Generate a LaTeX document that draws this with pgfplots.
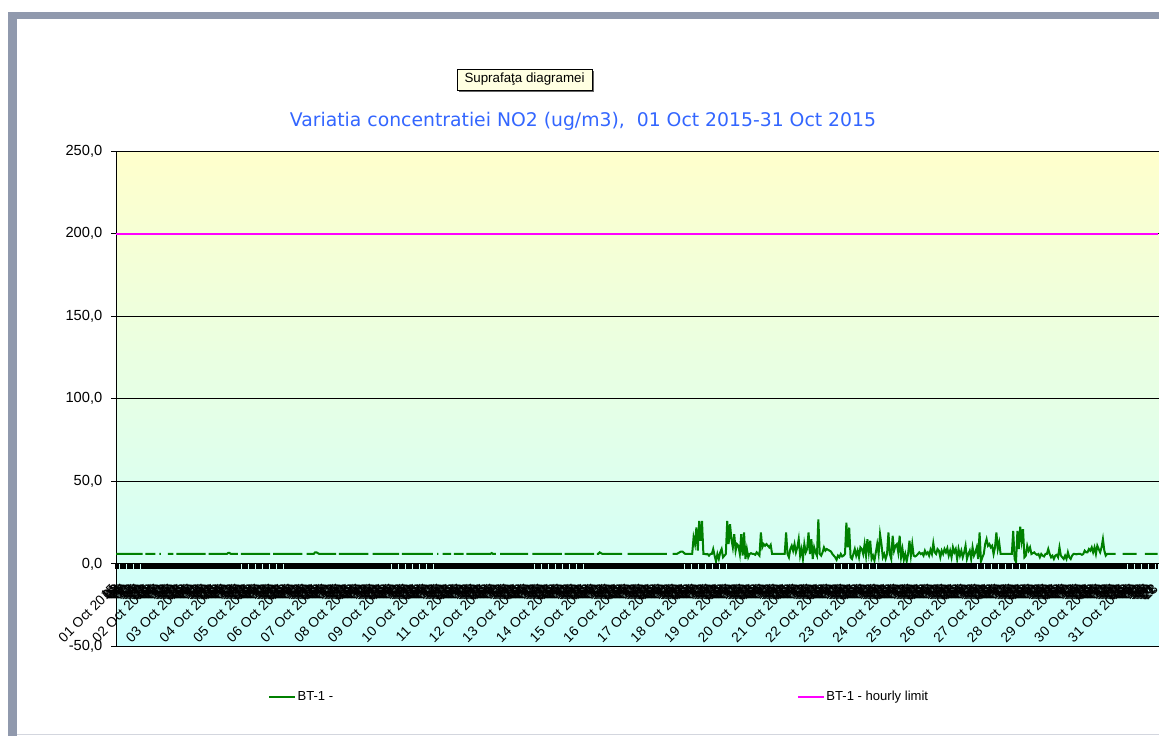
\documentclass[border=0pt]{standalone}
\usepackage{fontspec}
\setmainfont{Liberation Sans}
\newfontfamily\titlefont{DejaVu Sans}
\usepackage{pgfplots}
\pgfplotsset{compat=1.18}

\definecolor{framegray}{RGB}{144,153,173}
\definecolor{bgyellow}{RGB}{255,255,204}
\definecolor{bgcyan}{RGB}{204,255,255}
\definecolor{titleblue}{RGB}{51,102,255}
\definecolor{no2green}{RGB}{0,128,0}
\definecolor{limitpink}{RGB}{255,0,255}
\definecolor{tipfill}{RGB}{255,255,225}

% category labels: one per hour, the date at midnight
\def\hourlabels{}%
\foreach \d in {1,...,31}{%
  \foreach \h in {0,...,23}{%
    \ifnum\h=0
      \xdef\hourlabels{\hourlabels{\ifnum\d<10 0\fi\d\space Oct 2015},}%
    \else
      \xdef\hourlabels{\hourlabels{\ifnum\h<10 0\fi\h},}%
    \fi
  }%
}%

\begin{document}%
\begin{tikzpicture}
% window frame
\fill[framegray] (6pt,-9pt) rectangle (869.25pt,-14.25pt);
\fill[framegray] (6pt,-9pt) rectangle (12.75pt,-552pt);
\fill[framegray!40] (12.75pt,-550.2pt) rectangle (869.25pt,-551.2pt);

% tooltip
\fill[black!60] (344pt,-53pt) rectangle (445.25pt,-68.75pt);
\node[draw=black, fill=tipfill, line width=0.5pt, minimum width=101.25pt, minimum height=15.75pt,
      inner sep=0pt, font=\fontsize{10}{12}\selectfont] at (393.4pt,-59.6pt) {Suprafaţa diagramei};

% title
\node[text=titleblue, font=\titlefont\fontsize{14.1}{17}\selectfont] at (437.25pt,-90.75pt)
  {Variatia concentratiei NO2 (ug/m3),\ \ 01 Oct 2015-31 Oct 2015};

\begin{axis}[
  at={(87pt,-113.25pt)}, anchor=north west,
  scale only axis, width=784.5pt, height=371.6pt,
  xmin=0, xmax=746.14, ymin=-50, ymax=250,
  xtick=\empty,
  ytick={-50,0,50,100,150,200,250},
  yticklabels={{-50,0},{0,0},{50,0},{100,0},{150,0},{200,0},{250,0}},
  yticklabel style={font=\fontsize{11}{13}\selectfont, xshift=-3pt},
  ytick align=outside, ytick pos=left, major tick length=3.75pt,
  tick style={black, line width=0.75pt},
  axis line style={black, line width=0.75pt},
  ymajorgrids, grid style={black, line width=0.75pt},
  axis background/.style={top color=bgyellow, bottom color=bgcyan},
  unbounded coords=jump,
  legend columns=2,
  legend image code/.code={\draw[#1] (0pt,0pt) -- (19.5pt,0pt);},
  legend style={at={(0.1453,-0.1012)}, anchor=west, draw=none, fill=none,
    inner sep=0pt, font=\fontsize{9.8}{12}\selectfont,
    nodes={inner sep=1pt},
    /tikz/every even column/.append style={column sep=347pt}},
]
\addplot[no2green, line width=1.5pt] coordinates {
(0,6) (19,6) (20,nan) (21,6) (28,6) (29.5,nan) (31,6) (32,6) (33,nan) (34,6) (35,nan) (37,6) (41,6) (42,nan) (43,6)
(64,6) (65,nan) (66,6) (79,6) (80,6.6) (81,6.6) (82,6) (87,6) (88,nan) (89,6) (110,6) (111,nan) (112,6)
(133,6) (134.5,nan) (136,6) (141,6) (142,7) (143,7) (144,6.5) (145,6) (157,6) (158,nan) (159,6)
(180,6) (181.5,nan) (183,6) (202,6) (203,nan) (204,6) (226,6) (227.5,nan) (229,6) (230,6) (231.5,nan) (233,6)
(239,6) (240,nan) (241,6) (248,6) (249,nan) (250,6) (267,6) (268,6.6) (269,6) (271,6) (272.5,nan) (274,6)
(294,6) (295.5,nan) (297,6) (318,6) (319,nan) (320,6) (341,6) (342,nan) (343,6) (344,6) (345,7) (346,6.5) (347,6)
(361,6) (363,nan) (365,6) (393,6) (395,nan) (397,6) (400,6) (401,6.5) (402,7) (403,7.5) (404,7.5) (405,6.8) (406,6) (411,6)
(412,16) (413,12) (414,22) (415,8) (416,26) (417,14) (418,26) (419,6) (420,6) (421,5.8) (422,6) (423,5) (424,6) (425,6)
(426,9) (427,5) (428,1.5) (429,6) (430,3) (431,7) (432,9) (433,4) (434,5) (435,6) (436,26) (437,12) (438,24) (439,15)
(440,10) (441,18) (442,8) (443,12) (444,11) (445,6) (446,18) (447,5) (448,19) (449,3) (450,9) (451,4) (452,6) (453,6.5)
(454,6) (455,6) (456,5.5) (457,7) (458,6) (459,5) (460,19) (461,10) (462,12) (463,11) (464,12) (465,11) (466,10) (467,11.5)
(468,6) (477,6) (478,19) (479,6) (480,4) (481,9) (482,11) (483,8) (484,12) (485,7) (486,10) (487,15) (488,5) (489,9)
(490,3) (491,12) (492,7) (493,9) (494,19) (495,6) (496,15) (497,3) (498,10) (499,7) (500,5) (501,27) (502,6) (503,5)
(504,7) (505,10) (506,8) (507,9) (508,8.5) (509,8) (510,7.5) (511,6) (512,5) (513,4) (514,2.5) (515,5) (516,4) (517,6)
(518,4.5) (519,5) (520,6) (521,25) (522,10) (523,22) (524,4) (525,3) (526,6) (527,9) (528,5) (529,8) (530,4) (531,10)
(532,9) (533,6) (534,12) (535,5) (536,15) (537,7) (538,14) (539,3) (540,5) (541,2) (542,7) (543,12) (544,6) (545,18)
(546,12) (547,4) (548,6) (549,3) (550,6) (551,19) (552,6) (553,3) (554,17) (555,8) (556,11) (557,12) (558,7) (559,17)
(560,4) (561,9) (562,2.5) (563,6) (564,1.5) (565,6) (566,14) (567,5) (568,12) (569,5) (570,4.5) (571,5) (572,6) (573,7)
(574,6) (575,6.5) (576,5) (577,8) (578,6) (579,7) (580,5) (581,8.5) (582,6) (583,12.5) (584,7) (585,6) (586,9) (587,8)
(588,4) (589,8) (590,6) (591,9) (592,7) (593,9.5) (594,5) (595,8) (596,4) (597,10) (598,7) (599,9) (600,3) (601,9)
(602,5) (603,8) (604,4) (605,7) (606,11) (607,3) (608,6) (609,8) (610,3) (611,10) (612,5) (613,7) (614,10) (615,3)
(616,19) (617,1.5) (618,4) (619,6) (620,12) (621,15) (622,11) (623,12) (624,10) (625,11) (626,6) (627,10) (628,19) (629,9)
(630,13) (631,6) (639,6) (640,20) (641,3) (642,1) (643,20) (644,9) (645,22.5) (646,14) (647,21) (648,4) (649,5) (650,11)
(651,8) (652,10) (653,6) (654,6.5) (655,7) (656,6) (657,5.5) (658,6) (659,4) (660,6) (661,5) (662,4.5) (663,6) (664,6)
(665,9) (666,6) (667,4) (668,5) (669,3) (670,5) (671,5.5) (672,4) (673,10) (674,5) (675,4) (676,3) (677,5) (678,3)
(679,7) (680,4) (681,3) (682,5) (683,6) (684,6) (685,5.8) (686,6) (687,6) (688,6) (689,5.5) (690,6) (691,8) (692,7)
(693,7) (694,9) (695,8) (696,10) (697,7) (698,10) (699,6) (700,11) (701,9) (702,7) (703,10) (704,15) (705,8) (706,5)
(707,6) (713,6) (715.5,nan) (718,6) (728,6) (731,nan) (734,6) (743,6)
};
\addlegendentry{BT-1 -}
\addplot[limitpink, line width=1.5pt] coordinates {(0,200) (743,200)};
\addlegendentry{BT-1 - hourly limit}
\end{axis}

% category axis crossing at zero
\begin{axis}[
  at={(87pt,-113.25pt)}, anchor=north west,
  scale only axis, width=784.5pt, height=371.6pt,
  xmin=0, xmax=746.14, ymin=-50, ymax=250,
  axis x line=middle, axis y line=none,
  x axis line style={-, black, line width=0.75pt},
  hide obscured x ticks=false,
  xtick={0,...,743},
  xticklabels/.expand once=\hourlabels,
  xtick align=outside, major tick length=3.5pt,
  xtick style={black, line width=1pt},
  xticklabel style={font=\fontsize{10.3}{12}\selectfont, inner sep=0pt,
    xshift=-1.5pt, yshift=-13.5pt, rotate=45, anchor=east},
]
\end{axis}

\pgfresetboundingbox
\useasboundingbox (0pt,0pt) rectangle (869.25pt,-552pt);
\end{tikzpicture}%
\end{document}
